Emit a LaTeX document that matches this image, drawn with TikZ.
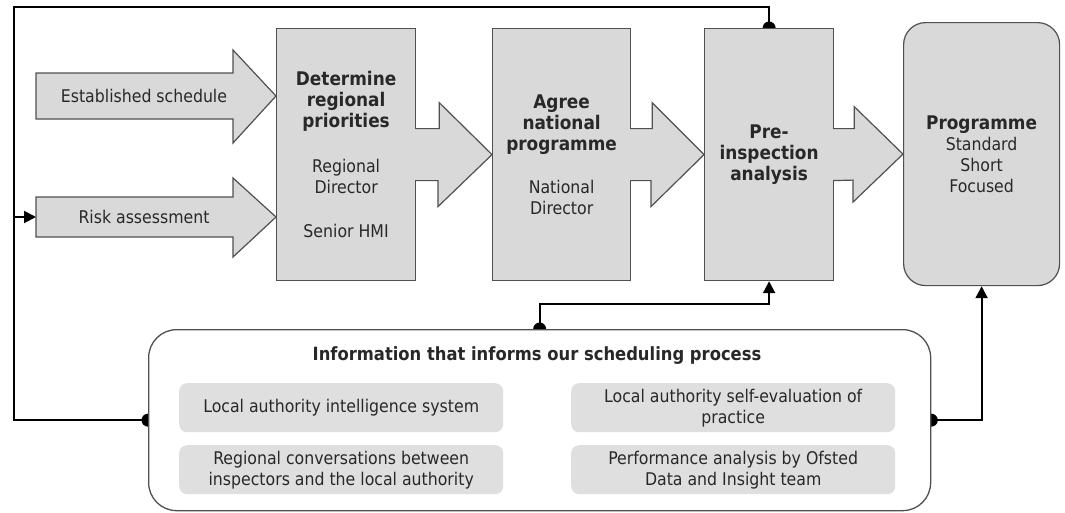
\documentclass[tikz,border=0pt]{standalone}
\usepackage{fontspec}
\setmainfont{DejaVu Sans Condensed}
\usetikzlibrary{positioning}
\usetikzlibrary{arrows.meta}
\usetikzlibrary{calc}
\usetikzlibrary{backgrounds}

\definecolor{boxgrey}{RGB}{217,217,217}
\definecolor{pillgrey}{RGB}{223,223,223}
\definecolor{edgegrey}{RGB}{80,80,80}
\definecolor{inkgrey}{RGB}{40,40,40}
\newcommand{\hd}[1]{{\fontsize{18.8}{21}\selectfont\bfseries #1}}

\begin{document}
\begin{tikzpicture}[x=1pt,y=-1pt,>={Triangle[length=12pt,width=12pt]},
	font=\fontsize{17.5}{21}\selectfont,text=inkgrey,
	stage/.style={rectangle,draw=edgegrey,line width=1.2pt,fill=boxgrey,
		anchor=north west,minimum height=252pt,inner sep=0pt,align=center},
	fat/.style={draw=edgegrey,line width=1.2pt,fill=boxgrey},
	pill/.style={rectangle,rounded corners=8pt,fill=pillgrey,anchor=north west,
		minimum width=324pt,minimum height=49pt,inner sep=0pt,align=center},
	link/.style={line width=2pt,black}]
	
	\useasboundingbox (0,0) rectangle (1065,512);
	
	\node[stage,minimum width=139pt] (det) at (276,28) {\hd{Determine}\\\hd{regional}\\\hd{priorities}\\[24pt]Regional\\Director\\[23pt]Senior HMI};
	\node[stage,minimum width=138pt] (agr) at (492,28) {\hd{Agree}\\\hd{national}\\\hd{programme}\\[22pt]National\\Director};
	\node[stage,minimum width=129pt] (pre) at (704,28) {\hd{Pre-}\\\hd{inspection}\\\hd{analysis}};
	\node[stage,minimum width=156pt,minimum height=263pt,rounded corners=22pt] (prog) at (903,22) {\hd{Programme}\\Standard\\Short\\Focused};
	
	\node[draw=edgegrey,line width=1.3pt,fill=white,rounded corners=28pt,anchor=north west,
		minimum width=782pt,minimum height=181pt,inner sep=0pt] (info) at (148,329) {};
	\node[font=\fontsize{18.2}{21}\selectfont\bfseries] (infotitle) at (537,356) {Information that informs our scheduling process};
	\node[pill] (lais) at (179,383) {Local authority intelligence system};
	\node[pill] (conv) at (179,445) {Regional conversations between\\inspectors and the local authority};
	\node[pill] (self) at (571,383) {Local authority self-evaluation of\\practice};
	\node[pill] (perf) at (571,445) {Performance analysis by Ofsted\\Data and Insight team};
	
	% arrows between the stages
	\draw[fat] ($(det.east)+(-1,-26)$) -- ++(24,0) -- ++(0,-26) -- (agr.west) -- ++(-54,52) -- ++(0,-26) -- ($(det.east)+(-1,26)$);
	\draw[fat] ($(agr.east)+(-1,-26)$) -- ++(22,0) -- ++(0,-26) -- (pre.west) -- ++(-53,52) -- ++(0,-26) -- ($(agr.east)+(-1,26)$);
	\draw[fat] ($(pre.east)+(-1,-26)$) -- ++(21,0) -- ++(0,-22) -- (prog.west) -- ++(-50,48) -- ++(0,-22) -- ($(pre.east)+(-1,26)$);
	
	\node (est) at (144,96) {Established schedule};
	\node (risk) at (144,217) {Risk assessment};
	\coordinate (risktail) at (36,217);
	\coordinate (corner) at (14,7);
	
	\begin{scope}[on background layer]
	\draw[fat] (36,73) -- (233,73) -- (233,50) -- (det.west |- est) -- (233,143) -- (233,119) -- (36,119) -- cycle;
	\draw[fat] (36,197) -- (233,197) -- (233,178) -- (det.west |- risktail) -- (233,257) -- (233,237) -- (36,237) -- cycle;
	
	\draw[link,->] (pre.north) -- (pre.north |- corner) -- (corner) -- (corner |- risktail) -- (risktail);
	\draw[link] (info.west) -- (info.west -| corner) -- (corner |- risktail);
	\draw[link,->] (info.north) -- ++(0,-25) -| (pre.south);
	\draw[link,->] (info.east) -| (prog.south);
	\fill (pre.north) circle (6.5pt) (info.west) circle (6.5pt) (info.north) circle (6.5pt) (info.east) circle (6.5pt);
	\end{scope}
\end{tikzpicture}
\end{document}
